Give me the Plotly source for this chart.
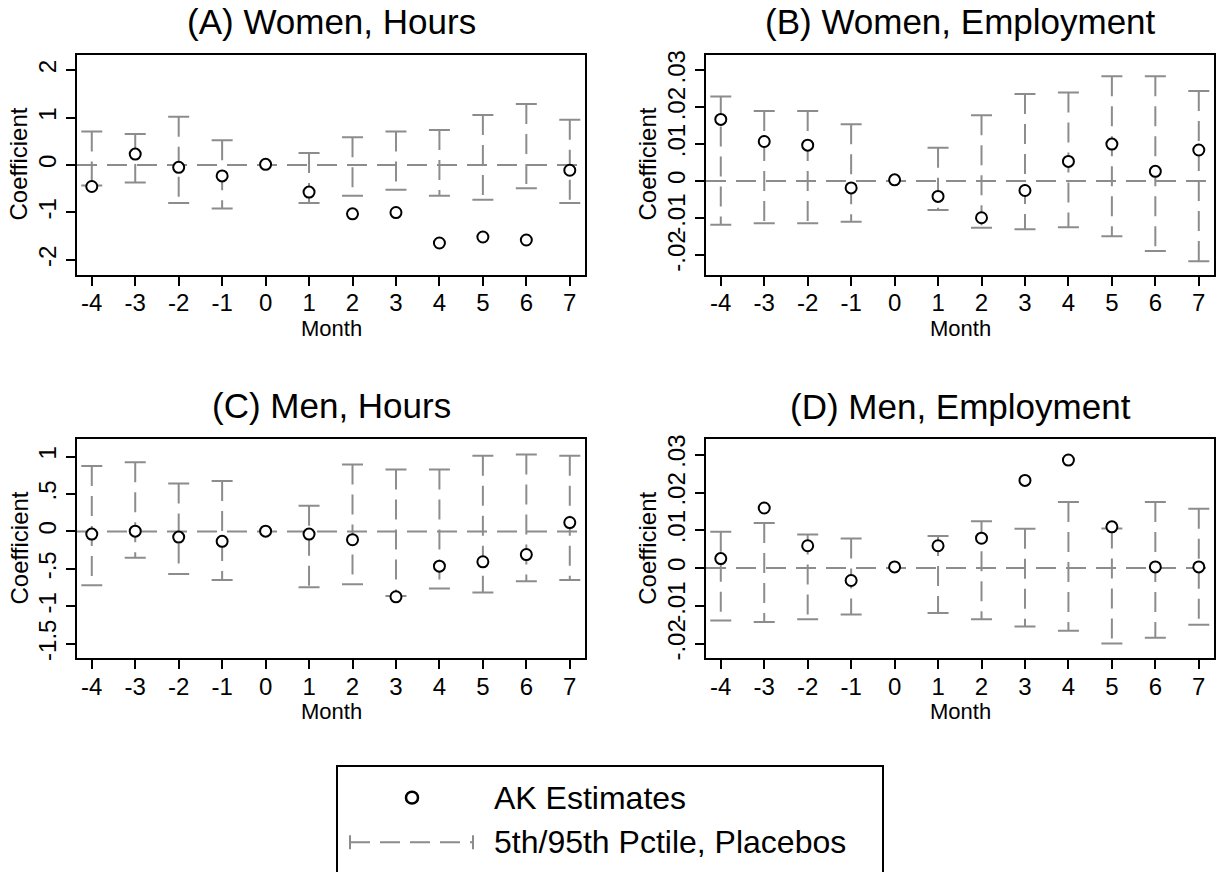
import plotly.graph_objects as go

# ---------------- data ----------------
months = [-4, -3, -2, -1, 0, 1, 2, 3, 4, 5, 6, 7]

# (A) Women, Hours
a_est = [-0.453, 0.230, -0.049, -0.230, 0.014, -0.571, -1.031, -1.003, -1.645, -1.519, -1.582, -0.111]
a_hi = [0.704, 0.655, 1.017, 0.523, None, 0.251, 0.585, 0.704, 0.739, 1.052, 1.289, 0.955]
a_lo = [-0.43, -0.369, -0.801, -0.920, None, -0.801, -0.648, -0.523, -0.648, -0.732, -0.488, -0.801]

# (B) Women, Employment
b_est = [0.0167, 0.0107, 0.0097, -0.0019, 0.0003, -0.0042, -0.0100, -0.0026, 0.0053, 0.0100, 0.0026, 0.0084]
b_hi = [0.0229, 0.0190, 0.0190, 0.0154, None, 0.0090, 0.0178, 0.0236, 0.0240, 0.0284, 0.0284, 0.0244]
b_lo = [-0.0119, -0.0115, -0.0115, -0.0111, None, -0.0079, -0.0127, -0.0131, -0.0126, -0.0150, -0.0190, -0.0218]

# (C) Men, Hours
c_est = [-0.035, 0.004, -0.075, -0.132, 0.004, -0.035, -0.110, -0.872, -0.463, -0.405, -0.308, 0.119]
c_hi = [0.872, 0.925, 0.639, 0.674, None, 0.344, 0.894, 0.828, 0.828, 1.009, 1.026, 1.009]
c_lo = [-0.718, -0.352, -0.568, -0.648, None, -0.744, -0.705, -0.86, -0.762, -0.815, -0.665, -0.648]

# (D) Men, Employment
d_est = [0.0025, 0.0159, 0.0059, -0.0033, 0.0003, 0.0059, 0.0079, 0.0232, 0.0286, 0.0109, 0.0003, 0.0003]
d_hi = [0.0096, 0.0119, 0.0089, 0.0078, None, 0.0085, 0.0124, 0.0104, 0.0175, 0.0105, 0.0175, 0.0157]
d_lo = [-0.0139, -0.0143, -0.0136, -0.0123, None, -0.0119, -0.0136, -0.0155, -0.0166, -0.0200, -0.0185, -0.0150]

titles = ["(A) Women, Hours", "(B) Women, Employment", "(C) Men, Hours", "(D) Men, Employment"]
hours_ticks = [-2, -1, 0, 1, 2]
hours_text = ["-2", "-1", "0", "1", "2"]
emp_ticks = [-0.02, -0.01, 0, 0.01, 0.02, 0.03]
emp_text = ["-.02", "-.01", "0", ".01", ".02", ".03"]
men_hours_ticks = [-1.5, -1, -0.5, 0, 0.5, 1]
men_hours_text = ["-1.5", "-1", "-.5", "0", ".5", "1"]
legend_labels = ["AK Estimates", "5th/95th Pctile, Placebos"]

# ---------------- style ----------------
W, H = 1218, 872
FONT = "Liberation Sans, Arial, sans-serif"
GRAY = "#8c8c8c"
DASH = "20px,10px"


def px(x):
    return x / W


def py(y):
    return 1 - y / H


panels = [
    dict(est=a_est, lo=a_lo, hi=a_hi, xd=(77, 585), yd=(50, 272), yr=[-2.31, 2.33],
         tv=hours_ticks, tt=hours_text, title=titles[0]),
    dict(est=b_est, lo=b_lo, hi=b_hi, xd=(706, 1214), yd=(50, 272), yr=[-0.0254, 0.0343],
         tv=emp_ticks, tt=emp_text, title=titles[1]),
    dict(est=c_est, lo=c_lo, hi=c_hi, xd=(77, 585), yd=(437.7, 659.3), yr=[-1.692, 1.238],
         tv=men_hours_ticks, tt=men_hours_text, title=titles[2]),
    dict(est=d_est, lo=d_lo, hi=d_hi, xd=(706, 1214), yd=(438.3, 659.3), yr=[-0.0239, 0.0341],
         tv=emp_ticks, tt=emp_text, title=titles[3]),
]

fig = go.Figure()
layout = dict(
    width=W, height=H,
    margin=dict(l=0, r=0, t=0, b=0),
    paper_bgcolor="white", plot_bgcolor="white",
    showlegend=False,
    font=dict(family=FONT, color="black"),
)
shapes = []
annotations = []

for i, p in enumerate(panels):
    n = "" if i == 0 else str(i + 1)
    xa, ya = "x" + n, "y" + n
    # dashed interval lines
    lx, ly = [], []
    cx, cy = [], []
    for m, lo, hi in zip(months, p["lo"], p["hi"]):
        if lo is None or hi is None:
            continue
        lx += [m, m, None]
        ly += [hi, lo, None]
        cx += [m, m]
        cy += [hi, lo]
    fig.add_trace(go.Scatter(x=lx, y=ly, mode="lines", xaxis=xa, yaxis=ya,
                             line=dict(color=GRAY, width=2, dash=DASH), hoverinfo="skip"))
    fig.add_trace(go.Scatter(x=cx, y=cy, mode="markers", xaxis=xa, yaxis=ya,
                             marker=dict(symbol="line-ew", size=15,
                                         line=dict(color=GRAY, width=2)),
                             hoverinfo="skip"))
    fig.add_trace(go.Scatter(x=months, y=p["est"], mode="markers", xaxis=xa, yaxis=ya,
                             marker=dict(symbol="circle", size=11, color="white",
                                         line=dict(color="black", width=2))))
    # zero reference line
    shapes.append(dict(type="line", xref=xa + " domain", yref=ya, x0=0, x1=1, y0=0, y1=0,
                       line=dict(color=GRAY, width=2, dash=DASH), layer="below"))

    axis_common = dict(showline=True, mirror=True, linecolor="black", linewidth=2,
                       ticks="outside", ticklen=9, tickwidth=2, tickcolor="black",
                       showgrid=False, zeroline=False,
                       tickfont=dict(family=FONT, size=24, color="black"))
    layout["xaxis" + n] = dict(
        domain=[px(p["xd"][0]), px(p["xd"][1])], range=[-4.34, 7.35],
        anchor=ya, tickmode="array", tickvals=months,
        ticktext=[str(m) for m in months], ticklabelstandoff=-3, **axis_common)
    layout["yaxis" + n] = dict(
        domain=[py(p["yd"][1]), py(p["yd"][0])], range=p["yr"],
        anchor=xa, tickmode="array", tickvals=p["tv"], ticktext=p["tt"],
        tickangle=-90, **axis_common)

    xc = (p["xd"][0] + p["xd"][1]) / 2
    annotations.append(dict(text=p["title"], x=px(xc), y=py(p["yd"][0] - 33), xref="paper",
                            yref="paper", showarrow=False, xanchor="center", yanchor="middle",
                            font=dict(family=FONT, size=35, color="black")))
    annotations.append(dict(text="Month", x=px(xc), y=py(p["yd"][1] + 54), xref="paper",
                            yref="paper", showarrow=False, xanchor="center", yanchor="middle",
                            font=dict(family=FONT, size=22, color="black")))
    annotations.append(dict(text="Coefficient", x=px(p["xd"][0] - 58),
                            y=py((p["yd"][0] + p["yd"][1]) / 2), xref="paper", yref="paper",
                            showarrow=False, textangle=-90, xanchor="center", yanchor="middle",
                            font=dict(family=FONT, size=24, color="black")))

# ---------------- legend (drawn) ----------------
shapes.append(dict(type="rect", xref="paper", yref="paper", x0=px(337), x1=px(883),
                   y0=py(880), y1=py(768), line=dict(color="black", width=2),
                   fillcolor="rgba(0,0,0,0)"))
shapes.append(dict(type="circle", xref="paper", yref="paper", x0=px(406), x1=px(418),
                   y0=py(806), y1=py(794), line=dict(color="black", width=2.5),
                   fillcolor="white"))
shapes.append(dict(type="line", xref="paper", yref="paper", x0=px(350), x1=px(473),
                   y0=py(845), y1=py(845), line=dict(color=GRAY, width=2, dash=DASH)))
for xx in (350, 473):
    shapes.append(dict(type="line", xref="paper", yref="paper", x0=px(xx), x1=px(xx),
                       y0=py(838), y1=py(852), line=dict(color=GRAY, width=2)))
annotations.append(dict(text=legend_labels[0], x=px(492), y=py(800), xref="paper", yref="paper",
                        showarrow=False, xanchor="left", yanchor="middle",
                        font=dict(family=FONT, size=32, color="black")))
annotations.append(dict(text=legend_labels[1], x=px(492), y=py(845), xref="paper", yref="paper",
                        showarrow=False, xanchor="left", yanchor="middle",
                        font=dict(family=FONT, size=32, color="black")))

layout["shapes"] = shapes
layout["annotations"] = annotations
fig.update_layout(**layout)
fig.write_html("out.html", config={"displayModeBar": False},
               post_script="document.body.style.margin='0px';document.body.style.overflow='hidden';")
